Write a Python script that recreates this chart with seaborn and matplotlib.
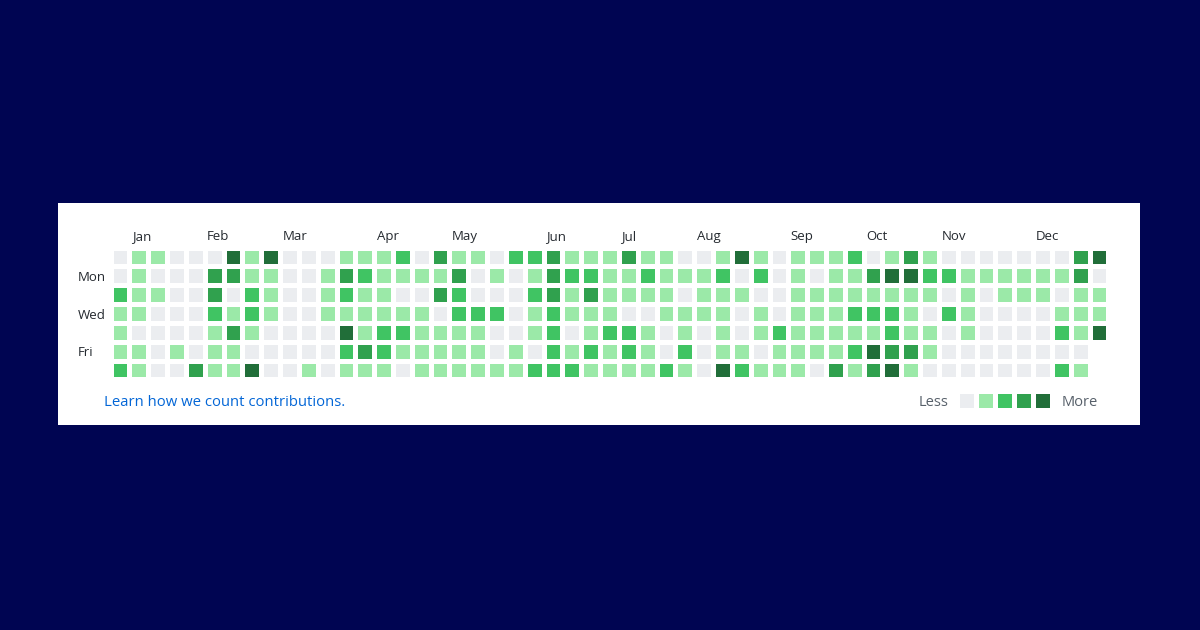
import seaborn as sns
import matplotlib.pyplot as plt
import numpy as np
from matplotlib.colors import ListedColormap
from matplotlib.patches import Rectangle

# contribution levels (0..4), one list per weekday, 53 weeks
sun = [0,1,1,0,0,0,4,1,4, 0,0,0,1,1,1,2,0,3,1,1,0, 2,2,3,1,1,1,3,1,1,0,0,1, 4,1,0,1,1,1,2,0,1,3,1,0, 0,0,0,0,0,0,3,4]
mon = [0,1,0,0,0,3,3,1,1, 0,0,1,3,2,1,1,1,1,3,0,1, 0,1,3,2,2,1,1,2,1,1,1,2, 0,2,0,1,0,1,1,3,4,4,2,2, 1,1,1,1,1,1,3,0]
tue = [2,1,1,0,0,3,0,2,1, 0,0,1,2,1,1,0,0,3,2,0,0, 0,2,3,1,3,1,1,1,1,0,1,1, 1,0,0,1,1,1,1,1,1,1,1,0, 1,0,1,1,1,0,1,1]
wed = [1,1,0,0,0,2,1,2,1, 0,0,1,1,1,1,1,1,0,2,2,2, 0,1,2,1,1,1,0,0,1,1,1,1, 0,1,0,1,1,1,2,2,2,1,0,2, 1,0,0,0,0,1,1,1]
thu = [1,0,0,0,0,1,3,1,0, 0,0,0,4,1,2,2,1,1,1,1,0, 0,1,2,0,1,2,2,1,0,1,0,1, 0,1,2,1,1,1,1,1,2,1,1,0, 1,0,0,0,0,2,1,4]
fri = [1,1,0,1,0,1,1,0,0, 0,0,0,2,3,2,1,1,1,1,1,0, 1,0,2,1,2,1,2,1,0,2,0,1, 1,0,1,1,1,1,2,4,3,3,1,0, 0,0,0,0,0,0,0,np.nan]
sat = [2,1,0,0,3,1,1,4,0, 0,1,0,1,1,1,0,1,1,1,1,1, 1,2,2,2,1,1,1,1,2,1,0,4, 2,1,1,1,0,3,1,3,4,1,0,0, 0,0,0,0,0,2,1,np.nan]

months = ['Jan', 'Feb', 'Mar', 'Apr', 'May', 'Jun', 'Jul', 'Aug', 'Sep', 'Oct', 'Nov', 'Dec']
month_week = [1, 5, 9, 14, 18, 23, 27, 31, 36, 40, 44, 49]
day_labels = {1: 'Mon', 3: 'Wed', 5: 'Fri'}
legend_levels = [0, 1, 2, 3, 4]

grid = np.array([sun, mon, tue, wed, thu, fri, sat], dtype=float)
cmap = ListedColormap(['#ebedf0', '#9be9a8', '#40c463', '#30a14e', '#216e39'])

plt.rcParams['font.family'] = ['Open Sans', 'DejaVu Sans']
fig = plt.figure(figsize=(12, 6.3), dpi=100)
fig.patch.set_facecolor('#000552')
fig.patches.append(Rectangle((58 / 1200, 1 - 425 / 630), 1082 / 1200, 222 / 630,
                             transform=fig.transFigure, facecolor='white', zorder=-10))

ax = fig.add_axes([110.6 / 1200, 1 - 379.4 / 630, 997.8 / 1200, 131.8 / 630])
sns.heatmap(grid, ax=ax, cmap=cmap, vmin=-0.5, vmax=4.5, cbar=False,
            linewidths=3.4, linecolor='white', square=False)
ax.set_facecolor('white')
ax.set_xticks([])
ax.set_yticks([])
for s in ax.spines.values():
    s.set_visible(False)

# month names sit on a common baseline above the first week of each month
for name, w in zip(months, month_week):
    ax.text(w + 0.13, -0.40, name, ha='left', va='baseline', fontsize=9.5, color='#24292f', clip_on=False)
for r, name in day_labels.items():
    ax.text(-1.73, r + 0.77, name, ha='left', va='baseline', fontsize=9.5, color='#24292f', clip_on=False)

fig.text(104 / 1200, 1 - 406 / 630, 'Learn how we count contributions.', ha='left', va='baseline',
         fontsize=10.7, color='#0366d6')

lax = fig.add_axes([957.3 / 1200, 1 - 410.4 / 630, 94.5 / 1200, 18.9 / 630])
sns.heatmap(np.array([legend_levels], dtype=float), ax=lax, cmap=cmap, vmin=-0.5, vmax=4.5,
            cbar=False, linewidths=3.4, linecolor='white')
lax.set_xticks([])
lax.set_yticks([])
fig.text(948 / 1200, 1 - 406 / 630, 'Less', ha='right', va='baseline', fontsize=10.5, color='#57606a')
fig.text(1062 / 1200, 1 - 406 / 630, 'More', ha='left', va='baseline', fontsize=10.5, color='#57606a')

fig.savefig('out.png', dpi=100, facecolor=fig.get_facecolor())
